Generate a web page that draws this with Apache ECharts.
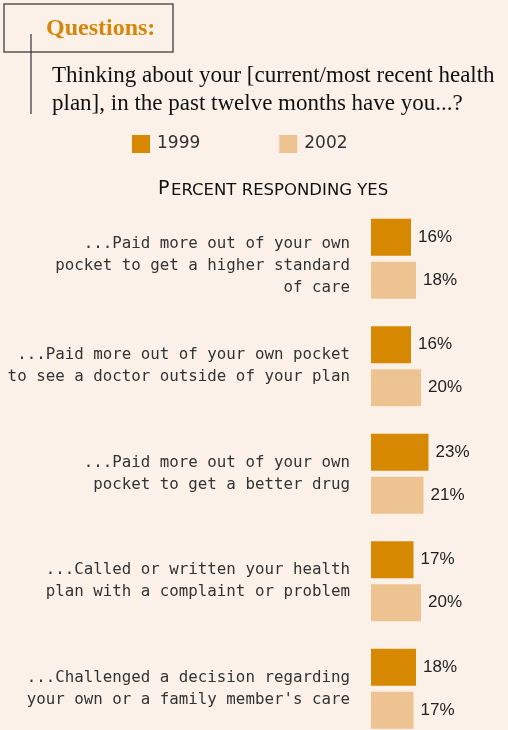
<!DOCTYPE html>
<html>
<head>
<meta charset="utf-8">
<script src="https://cdn.jsdelivr.net/npm/echarts@6/dist/echarts.min.js"></script>
<style>
  html, body { margin: 0; padding: 0; background: #fcf1e8; }
  #chart { width: 508px; height: 730px; }
</style>
</head>
<body>
<div id="chart"></div>
<script>
// survey items, top to bottom
var categories = [
    "...Paid more out of your own\npocket to get a higher standard\nof care",
    "...Paid more out of your own pocket\nto see a doctor outside of your plan",
    "...Paid more out of your own\npocket to get a better drug",
    "...Called or written your health\nplan with a complaint or problem",
    "...Challenged a decision regarding\nyour own or a family member's care"
];
var years = ["1999", "2002"];
var values1999 = [16, 16, 23, 17, 18];
var values2002 = [18, 20, 21, 20, 17];

var chart = echarts.init(document.getElementById("chart"));

var labelStyle = {
    show: true,
    position: "right",
    distance: 7,
    formatter: "{c}%",
    color: "#222",
    fontFamily: "Liberation Sans",
    fontSize: 17
};

var option = {
    backgroundColor: "#fcf1e8",
    animation: false,
    legend: {
        left: 132,
        top: 135,
        padding: 0,
        itemWidth: 18,
        itemHeight: 18,
        itemGap: 79,
        icon: "rect",
        textStyle: {
            color: "#333",
            fontFamily: "DejaVu Sans",
            fontSize: 17,
            padding: [0, 0, 0, 2]
        },
        data: years
    },
    grid: {
        left: 371,
        width: 125,
        top: 205,
        height: 537.5,
        containLabel: false,
        outerBoundsMode: "none"
    },
    xAxis: {
        type: "value",
        min: 0,
        max: 50,
        show: false
    },
    yAxis: {
        type: "category",
        inverse: true,
        data: categories,
        axisLine: { show: false },
        axisTick: { show: false },
        axisLabel: {
            margin: 21,
            align: "right",
            formatter: function (value, index) {
                var lines = value.split("\n").map(function (l) {
                    return "{n|" + l + "}";
                });
                // the first item sits a little lower in the original
                return (index === 0 ? "{t| }\n" : "") + lines.join("\n");
            },
            rich: {
                n: {
                    color: "#333",
                    fontFamily: "DejaVu Sans Mono",
                    fontSize: 15.8,
                    lineHeight: 22,
                    align: "right"
                },
                t: { fontSize: 4, lineHeight: 14, align: "right" }
            }
        }
    },
    series: [
        {
            name: years[0],
            type: "bar",
            barWidth: 37,
            barGap: "16%",
            itemStyle: { color: "#d68800" },
            label: labelStyle,
            data: values1999
        },
        {
            name: years[1],
            type: "bar",
            barWidth: 37,
            barGap: "16%",
            itemStyle: { color: "#edc391" },
            label: labelStyle,
            data: values2002
        }
    ],
    graphic: [
        {
            type: "rect",
            shape: { x: 4, y: 4, width: 169, height: 48 },
            style: { fill: "none", stroke: "#555", lineWidth: 1.5 }
        },
        {
            type: "line",
            shape: { x1: 31, y1: 34, x2: 31, y2: 114 },
            style: { stroke: "#333", lineWidth: 1.2 }
        },
        {
            type: "text",
            left: 46,
            top: 17,
            style: {
                text: "Questions:",
                fill: "#d4870a",
                font: "bold 24px 'Liberation Serif'"
            }
        },
        {
            type: "text",
            left: 52,
            top: 62,
            style: {
                text: "Thinking about your [current/most recent health\nplan], in the past twelve months have you...?",
                fill: "#111",
                font: "23px 'Liberation Serif'",
                lineHeight: 28
            }
        },
        {
            type: "text",
            left: 158,
            top: 180,
            style: {
                text: "P",
                fill: "#111",
                font: "19px 'DejaVu Sans'"
            }
        },
        {
            type: "text",
            left: 171,
            top: 182,
            style: {
                text: "ERCENT RESPONDING YES",
                fill: "#111",
                font: "16.5px 'DejaVu Sans'"
            }
        }
    ]
};

chart.setOption(option);
</script>
</body>
</html>
